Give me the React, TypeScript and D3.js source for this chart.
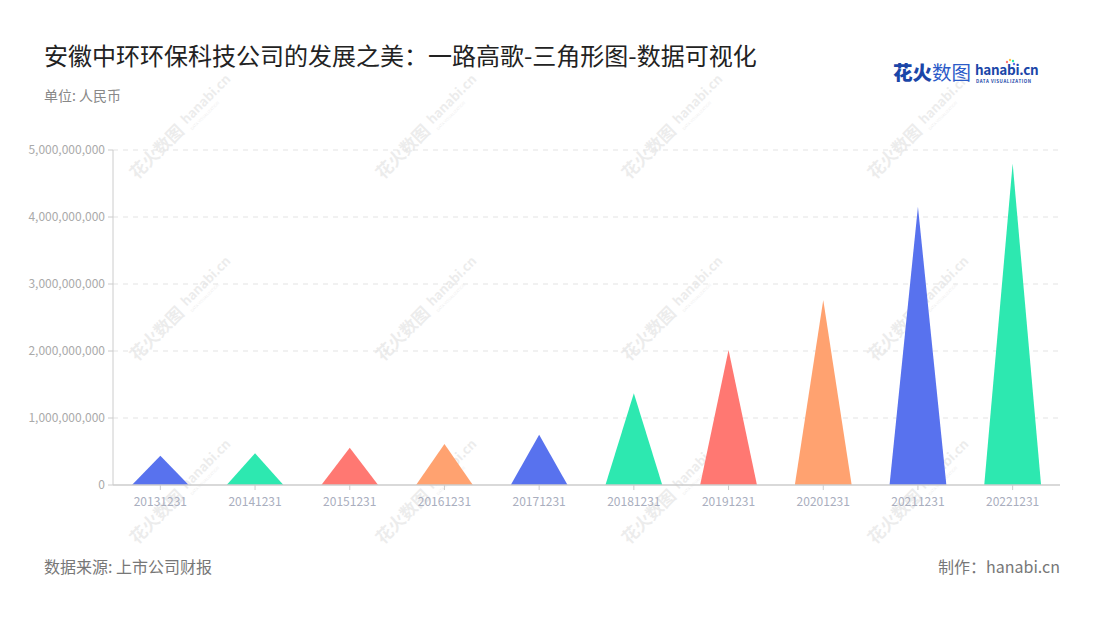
import React from "react";
import * as d3 from "d3";

const categories = ["20131231","20141231","20151231","20161231","20171231","20181231","20191231","20201231","20211231","20221231"];
const values = [437000000, 473000000, 557000000, 612000000, 751000000, 1369000000, 2015000000, 2761000000, 4154000000, 4800000000];
const yTicks = [0, 1000000000, 2000000000, 3000000000, 4000000000, 5000000000];
const palette = ["#5872EE", "#2DE8B0", "#FF7872", "#FFA270"];

const W = 1100, H = 620;
const left = 113, right = 1060, top = 150, bottom = 485;
const FONT = "'Noto Sans CJK SC', 'Noto Sans', sans-serif";

export default function App() {
  const x = d3.scaleBand<string>().domain(categories).range([left, right]).paddingInner(0).paddingOuter(0);
  const y = d3.scaleLinear().domain([0, 5000000000]).range([bottom, top]);
  const bw = x.bandwidth() * 0.6;
  const fmt = d3.format(",");

  const wmX = [137, 383, 629, 875];
  const wmY = [180, 362, 545];

  return (
    <svg width={W} height={H} style={{ position: "absolute", left: 0, top: 0, fontFamily: FONT }}>
      <rect width={W} height={H} fill="#fff" />
      {/* watermarks */}
      {wmY.map((wy) => wmX.map((wx) => (
        <g key={wx + "-" + wy} transform={`translate(${wx},${wy}) rotate(-45)`} opacity={0.07}>
          <text x={0} y={0} fontSize={17} fontWeight={700} fill="#000">花火数图</text>
          <text x={74} y={-4} fontSize={13} fontWeight={700} fill="#000">hanabi.cn</text>
          <text x={74} y={4} fontSize={4} fill="#000">DATA VISUALIZATION</text>
        </g>
      )))}
      {/* title */}
      <text x={44} y={65} fontSize={24} fill="#222">安徽中环环保科技公司的发展之美：一路高歌-三角形图-数据可视化</text>
      <text x={44} y={101} fontSize={14} fill="#888">单位: 人民币</text>
      {/* logo */}
      <g>
        <text x={893} y={80} fontSize={19.5} fontWeight={900} fill="#1A46A8">花火</text>
        <text x={932} y={80} fontSize={19.5} fill="#2C5BC8">数图</text>
        <text x={975} y={75} fontSize={13.5} fontWeight={700} fill="#1A46A8" letterSpacing={-0.3}>hanabi.cn</text>
        <text x={976} y={83} fontSize={4.4} fontWeight={700} fill="#1A46A8" letterSpacing={0.6}>DATA VISUALIZATION</text>
        <circle cx={1007} cy={62} r={1.2} fill="#FF7872" />
        <circle cx={1010} cy={60} r={1.2} fill="#FFC84A" />
        <circle cx={1013} cy={61} r={1.2} fill="#2DE8B0" />
        <circle cx={1014} cy={64} r={1.2} fill="#5872EE" />
      </g>
      {/* grid */}
      {yTicks.filter((t) => t > 0).map((t) => (
        <line key={t} x1={left} x2={right} y1={y(t)} y2={y(t)} stroke="#E3E3E3" strokeDasharray="5,5" />
      ))}
      {/* y axis */}
      <line x1={left} x2={left} y1={top} y2={bottom} stroke="#CCCCCC" strokeWidth={1} />
      {yTicks.map((t) => (
        <g key={t}>
          <line x1={left - 5} x2={left} y1={y(t)} y2={y(t)} stroke="#CCCCCC" />
          <text x={left - 8} y={y(t)} dy="0.35em" textAnchor="end" fontSize={12} fill="#AAAAAA">{fmt(t)}</text>
        </g>
      ))}
      {/* triangles */}
      {categories.map((c, i) => {
        const cx = (x(c) as number) + x.bandwidth() / 2;
        const p = d3.path();
        p.moveTo(cx - bw / 2, y(0));
        p.lineTo(cx, y(values[i]));
        p.lineTo(cx + bw / 2, y(0));
        p.closePath();
        return <path key={c} d={p.toString()} fill={palette[i % 4]} />;
      })}
      {/* x axis */}
      <line x1={left} x2={right} y1={bottom} y2={bottom} stroke="#CCCCCC" strokeWidth={1.5} />
      {categories.map((c) => {
        const cx = (x(c) as number) + x.bandwidth() / 2;
        return (
          <g key={c}>
            <line x1={cx} x2={cx} y1={bottom} y2={bottom + 5} stroke="#CCCCCC" />
            <text x={cx} y={506} textAnchor="middle" fontSize={12} fill="#A9AEBE">{c}</text>
          </g>
        );
      })}
      {/* footer */}
      <text x={44} y={573} fontSize={16} fill="#777">数据来源: 上市公司财报</text>
      <text x={1060} y={573} fontSize={16} fill="#777" textAnchor="end">制作：hanabi.cn</text>
    </svg>
  );
}
